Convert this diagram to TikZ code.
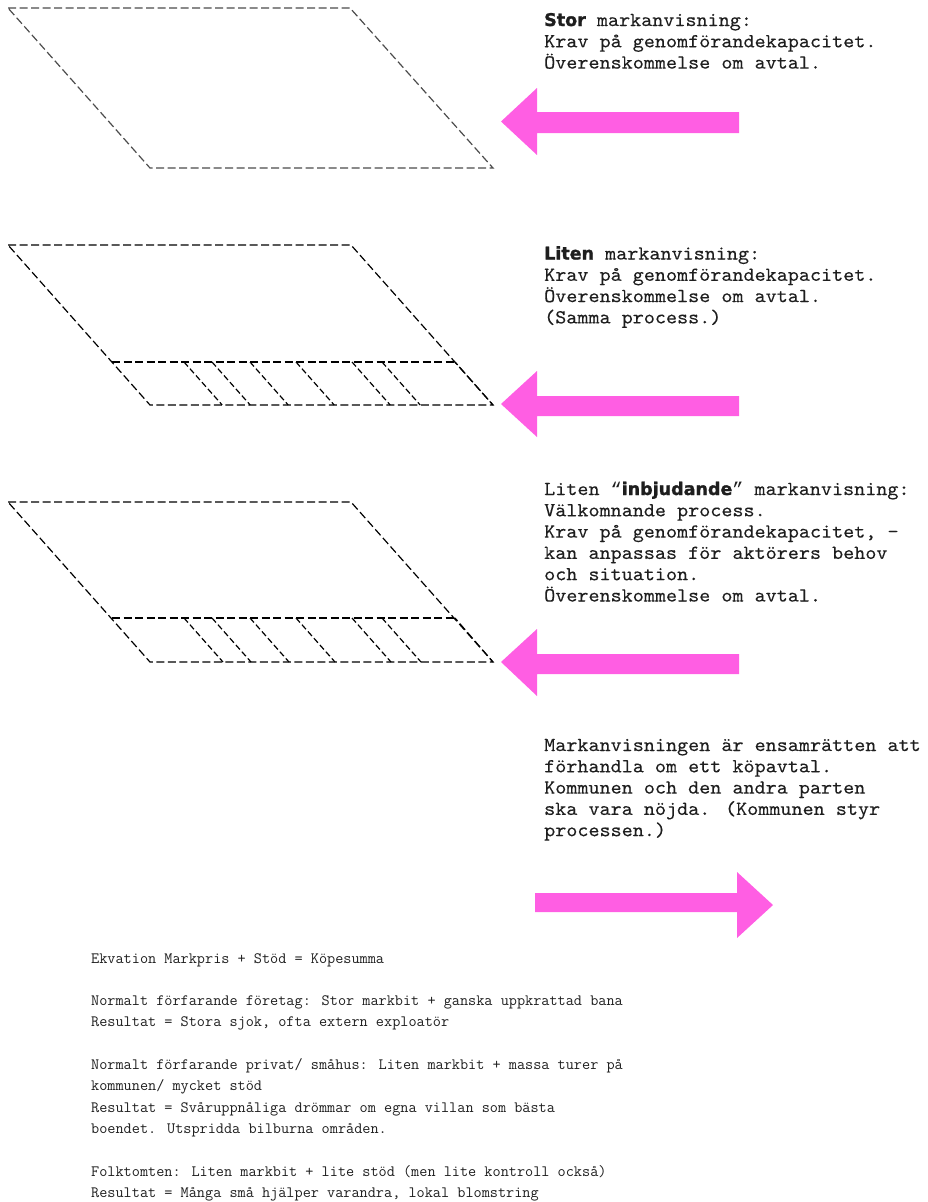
\documentclass[tikz,border=0pt]{standalone}
\usepackage{fontspec}
\newfontfamily\topfont{lmmono10-regular}[Extension=.otf, FakeStretch=1.06, FakeBold=0.2]
\newfontfamily\quotefont{Liberation Mono}
\newfontfamily\heavysans{DejaVu Sans}[FakeBold=1.4]
\definecolor{arrowpink}{RGB}{255,94,227}
\definecolor{txt}{RGB}{30,30,30}
\tikzset{
  plotline/.style={line width=1.2pt, dash pattern=on 8pt off 3.5pt},
  hatchline/.style={line width=1.2pt, dash pattern=on 6pt off 3pt},
  bigarrow/.style={fill=arrowpink, draw=none},
  toptext/.style={anchor=base west, inner sep=0pt, text=txt, font=\topfont\fontsize{19.9}{21.3}\selectfont},
  bottext/.style={anchor=base west, inner sep=0pt, text=txt, font=\ttfamily\fontsize{15.8}{21.3}\selectfont},
}
\newcommand{\hv}[1]{{\heavysans\bfseries\fontsize{17.5}{21.3}\selectfont #1}}
\newcommand{\tq}[1]{\makebox[11.07pt]{\quotefont\fontsize{18.5}{21.3}\selectfont #1}}
\begin{document}
\begin{tikzpicture}[x=1pt,y=-1pt]
\useasboundingbox (0,0) rectangle (928,1202);

% ---------- Shape 1 (large plot) ----------
\coordinate (a1) at (8,8);
\coordinate (b1) at (350,8);
\coordinate (c1) at (493,168);
\coordinate (d1) at (150,168);
\draw[plotline, draw=black!70] (a1) -- (b1) -- (c1) -- (d1) -- cycle;

% ---------- Shape 2 (subdivided) ----------
\coordinate (a2) at (8,245);
\coordinate (b2) at (351,245);
\coordinate (c2) at (493,405);
\coordinate (d2) at (150,405);
\coordinate (m2l) at (112,362);
\coordinate (m2r) at (455,362);
\draw[plotline] (a2) -- (b2) -- (c2) -- (d2) -- cycle;
\draw[plotline] (m2l) -- (m2r);
\draw[plotline, dash phase=4pt] (m2r) -- (c2);
\foreach \t in {184,212,250,296,352,382}{
  \draw[hatchline] (\t,362) -- (\t+38.2,405);
}

% ---------- Shape 3 (subdivided) ----------
\coordinate (a3) at (8,502);
\coordinate (b3) at (351,502);
\coordinate (c3) at (493,662);
\coordinate (d3) at (150,662);
\coordinate (m3l) at (112,618);
\coordinate (m3r) at (455,618);
\draw[plotline] (a3) -- (b3) -- (c3) -- (d3) -- cycle;
\draw[plotline] (m3l) -- (m3r);
\draw[plotline, dash phase=4pt] (m3r) -- (c3);
\foreach \t in {184,212,250,296,352,382}{
  \draw[hatchline] (\t,618) -- (\t+39,662);
}

% ---------- Pink arrows ----------
\fill[bigarrow] (501,121.5) -- (537,88) -- (537,112) -- (739,112) -- (739,133) -- (537,133) -- (537,155) -- cycle;
\fill[bigarrow] (501,404) -- (537,371) -- (537,396) -- (739,396) -- (739,416) -- (537,416) -- (537,437) -- cycle;
\fill[bigarrow] (501,662) -- (537,629) -- (537,654) -- (739,654) -- (739,674) -- (537,674) -- (537,696) -- cycle;
\fill[bigarrow] (773,905) -- (737,872) -- (737,893) -- (535,893) -- (535,912) -- (737,912) -- (737,938) -- cycle;

% ---------- Right column texts ----------
\node[toptext] (t11) at (544,26)   {\hv{Stor} markanvisning:};
\node[toptext] (t12) at (544,47.3) {Krav på genomförandekapacitet.};
\node[toptext] (t13) at (544,68.6) {Överenskommelse om avtal.};

\node[toptext] (t21) at (544,259.5) {\hv{Liten} markanvisning:};
\node[toptext] (t22) at (544,280.8) {Krav på genomförandekapacitet.};
\node[toptext] (t23) at (544,302.1) {Överenskommelse om avtal.};
\node[toptext] (t24) at (544,323.4) {(Samma process.)};

\node[toptext] (t31) at (544,495)   {Liten \tq{“}\hv{inbjudande}\tq{”} markanvisning:};
\node[toptext] (t32) at (544,516.3) {Välkomnande process.};
\node[toptext] (t33) at (544,537.6) {Krav på genomförandekapacitet, -};
\node[toptext] (t34) at (544,558.9) {kan anpassas för aktörers behov};
\node[toptext] (t35) at (544,580.2) {och situation.};
\node[toptext] (t36) at (544,601.5) {Överenskommelse om avtal.};

\node[toptext] (t41) at (544,751)   {Markanvisningen är ensamrätten att};
\node[toptext] (t42) at (544,772.3) {förhandla om ett köpavtal.};
\node[toptext] (t43) at (544,793.6) {Kommunen och den andra parten};
\node[toptext] (t44) at (544,814.9) {ska vara nöjda. (Kommunen styr};
\node[toptext] (t45) at (544,836.2) {processen.)};

% ---------- Bottom text ----------
\node[bottext] (u0)  at (91,963)    {Ekvation Markpris + Stöd = Köpesumma};
\node[bottext] (u2)  at (91,1005.6) {Normalt förfarande företag: Stor markbit + ganska uppkrattad bana};
\node[bottext] (u3)  at (91,1026.9) {Resultat = Stora sjok, ofta extern exploatör};
\node[bottext] (u5)  at (91,1069.5) {Normalt förfarande privat/ småhus: Liten markbit + massa turer på};
\node[bottext] (u6)  at (91,1090.8) {kommunen/ mycket stöd};
\node[bottext] (u7)  at (91,1112.1) {Resultat = Svåruppnåliga drömmar om egna villan som bästa};
\node[bottext] (u8)  at (91,1133.4) {boendet. Utspridda bilburna områden.};
\node[bottext] (u10) at (91,1176)   {Folktomten: Liten markbit + lite stöd (men lite kontroll också)};
\node[bottext] (u11) at (91,1197.3) {Resultat = Många små hjälper varandra, lokal blomstring};
\end{tikzpicture}
\end{document}
